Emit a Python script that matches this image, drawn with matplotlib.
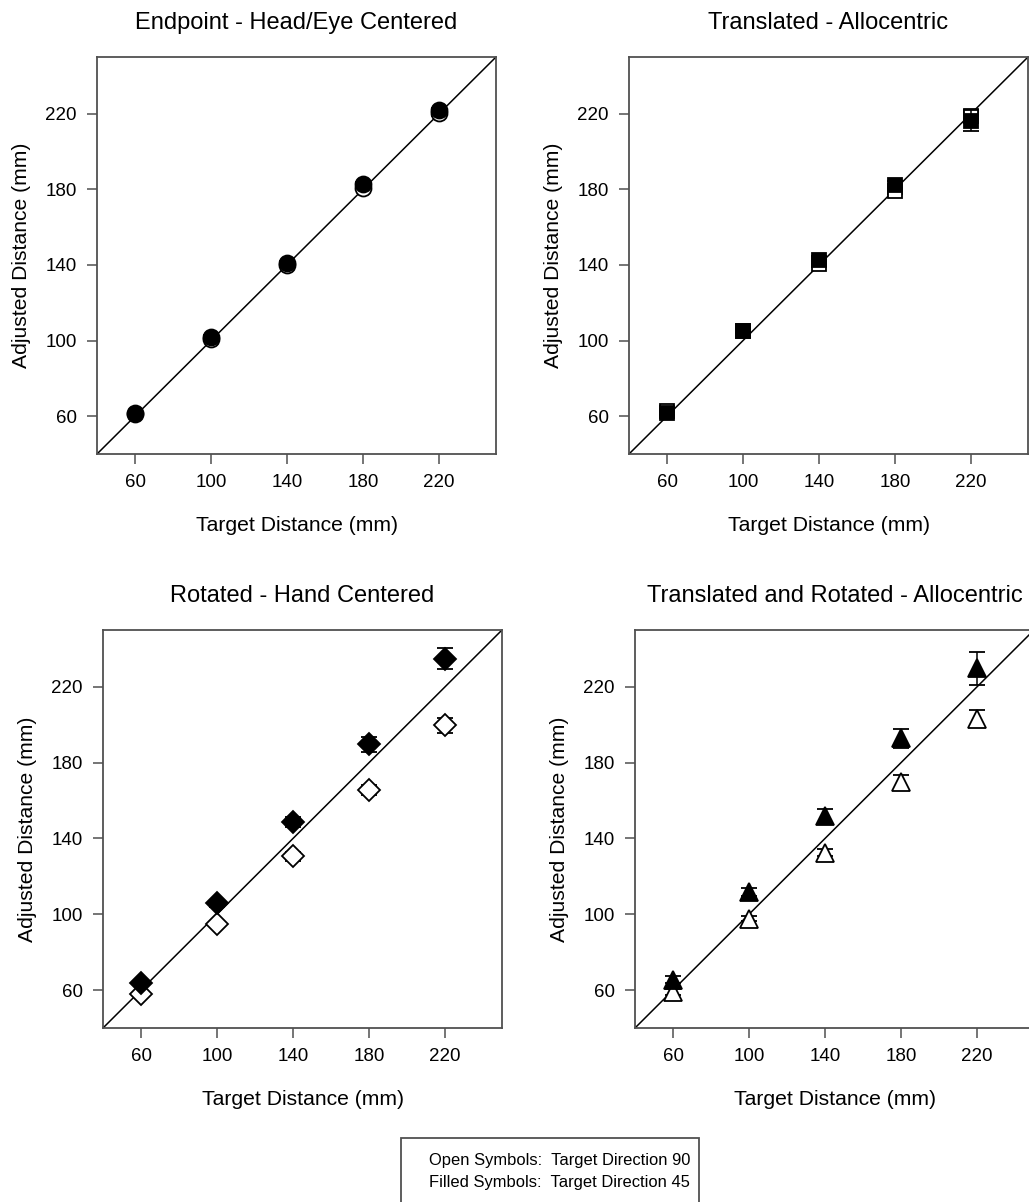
import matplotlib
matplotlib.use("Agg")
import matplotlib.pyplot as plt

plt.rcParams['font.family'] = ['Liberation Sans', 'DejaVu Sans']

# target distances (mm)
target = [60, 100, 140, 180, 220]

# Endpoint - Head/Eye Centered (circles)
endpoint_open = [61.0, 101.0, 140.0, 180.9, 220.2]
endpoint_open_err = [0.8, 1.0, 1.0, 1.2, 1.2]
endpoint_filled = [61.6, 102.0, 141.2, 182.6, 222.0]
endpoint_filled_err = [0.8, 1.0, 1.0, 1.2, 1.2]

# Translated - Allocentric (squares)
translated_open = [63.0, 105.0, 140.5, 179.0, 219.0]
translated_open_err = [1.0, 1.0, 1.5, 1.5, 2.0]
translated_filled = [61.9, 105.3, 142.7, 182.5, 216.3]
translated_filled_err = [1.5, 1.5, 2.0, 2.0, 5.7]

# Rotated - Hand Centered (diamonds)
rotated_open = [57.9, 95.1, 130.5, 165.6, 199.7]
rotated_open_err = [1.5, 1.5, 2.5, 2.5, 4.0]
rotated_filled = [63.5, 105.7, 148.8, 189.7, 234.8]
rotated_filled_err = [1.5, 2.0, 2.5, 4.0, 5.6]

# Translated and Rotated - Allocentric (triangles)
transrot_open = [59.0, 97.7, 132.6, 169.8, 203.3]
transrot_open_err = [1.5, 1.5, 2.0, 3.5, 4.5]
transrot_filled = [65.5, 111.8, 151.6, 193.0, 229.7]
transrot_filled_err = [2.0, 2.0, 4.0, 5.0, 8.8]

titles = ["Endpoint - Head/Eye Centered", "Translated - Allocentric",
          "Rotated - Hand Centered", "Translated and Rotated - Allocentric"]
ticks = [60, 100, 140, 180, 220]
lims = [40, 250]

W, H = 1029, 1202
fig = plt.figure(figsize=(W / 100, H / 100), dpi=100)


def px_axes(x0, y0, x1, y1):
    return fig.add_axes([x0 / W, 1 - y1 / H, (x1 - x0) / W, (y1 - y0) / H])


panels = [
    (px_axes(97, 57, 496, 454), titles[0], 'o', 11.5,
     endpoint_open, endpoint_open_err, endpoint_filled, endpoint_filled_err),
    (px_axes(629, 57, 1028, 454), titles[1], 's', 10.5,
     translated_open, translated_open_err, translated_filled, translated_filled_err),
    (px_axes(103, 630, 502, 1028), titles[2], 'D', 11,
     rotated_open, rotated_open_err, rotated_filled, rotated_filled_err),
    (px_axes(635, 630, 1034, 1028), titles[3], '^', 13,
     transrot_open, transrot_open_err, transrot_filled, transrot_filled_err),
]

spine_col = '#505050'
for ax, title, mk, ms, y_open, e_open, y_fill, e_fill in panels:
    ax.plot(lims, lims, color='black', lw=1.1, zorder=1)
    ax.errorbar(target, y_open, yerr=e_open, fmt=mk, ms=ms, mfc='white',
                mec='black', mew=1.3, ecolor='black', elinewidth=1.1,
                capsize=6, capthick=1.1, zorder=2)
    ax.errorbar(target, y_fill, yerr=e_fill, fmt=mk, ms=ms, mfc='black',
                mec='black', mew=1.3, ecolor='black', elinewidth=1.1,
                capsize=6, capthick=1.1, zorder=3)
    ax.set_xlim(lims)
    ax.set_ylim(lims)
    ax.set_xticks(ticks)
    ax.set_yticks(ticks)
    ax.tick_params(direction='out', length=7, width=1.1, color=spine_col,
                   labelsize=13.5, pad=7.5)
    for sp in ax.spines.values():
        sp.set_color(spine_col)
        sp.set_linewidth(1.3)
    ax.set_title(title, fontsize=17, pad=20)
    ax.set_xlabel("Target Distance (mm)", fontsize=15.2, labelpad=18)
    ax.set_ylabel("Adjusted Distance (mm)", fontsize=15.2, labelpad=10)

# legend note box
fig.patches.append(plt.Rectangle((401 / W, 1 - 1260 / H), 298 / W, 122 / H,
                                 transform=fig.transFigure, fill=False,
                                 edgecolor=spine_col, lw=1.3))
fig.text(429 / W, 1 - 1161 / H, "Open Symbols:  Target Direction 90",
         fontsize=11.9, va='center', ha='left')
fig.text(429 / W, 1 - 1183 / H, "Filled Symbols:  Target Direction 45",
         fontsize=11.9, va='center', ha='left')

fig.savefig("out.png", dpi=100)
